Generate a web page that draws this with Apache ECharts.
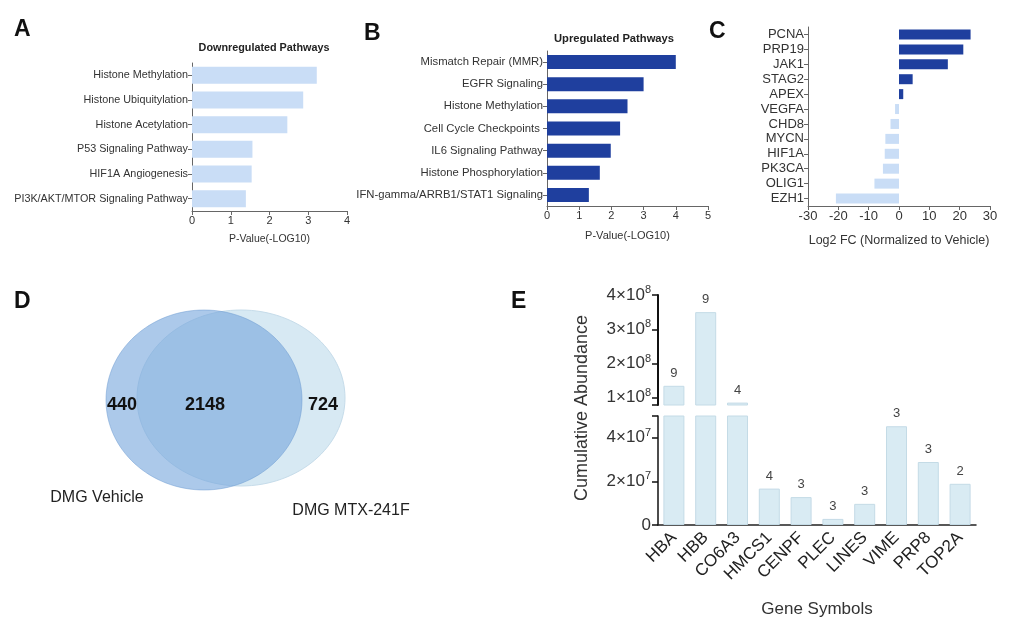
<!DOCTYPE html>
<html>
<head>
<meta charset="utf-8">
<script src="https://cdn.jsdelivr.net/npm/echarts@6/dist/echarts.min.js"></script>
<style>
  html, body { margin: 0; padding: 0; background: #fff; }
  #main { width: 1026px; height: 626px; }
</style>
</head>
<body>
<div id="main"></div>
<script>
// 数据
const downPathways = ['Histone Methylation', 'Histone Ubiquitylation', 'Histone Acetylation',
  'P53 Signaling Pathway', 'HIF1A Angiogenesis', 'PI3K/AKT/MTOR Signaling Pathway'];
const downValues = [3.22, 2.87, 2.46, 1.56, 1.54, 1.39];

const upPathways = ['Mismatch Repair (MMR)', 'EGFR Signaling', 'Histone Methylation',
  'Cell Cycle Checkpoints ', 'IL6 Signaling Pathway', 'Histone Phosphorylation',
  'IFN-gamma/ARRB1/STAT1 Signaling'];
const upValues = [4.0, 3.0, 2.5, 2.27, 1.98, 1.64, 1.3];

const fcGenes = ['PCNA', 'PRP19', 'JAK1', 'STAG2', 'APEX', 'VEGFA', 'CHD8', 'MYCN',
  'HIF1A', 'PK3CA', 'OLIG1', 'EZH1'];
const fcValues = [23.6, 21.2, 16.1, 4.5, 1.4, -1.3, -2.8, -4.5, -4.7, -5.3, -8.1, -20.8];

const vennSets = ['DMG Vehicle', 'DMG MTX-241F'];
const vennCounts = [440, 2148, 724]; // 仅Vehicle, 交集, 仅MTX-241F

const geneSymbols = ['HBA', 'HBB', 'CO6A3', 'HMCS1', 'CENPF', 'PLEC', 'LINES', 'VIME', 'PRP8', 'TOP2A'];
const abundance = [1.35e8, 3.5e8, 0.86e8, 1.67e7, 1.28e7, 0.28e7, 0.97e7, 4.53e7, 2.89e7, 1.89e7];
const peptideCounts = [9, 9, 4, 4, 3, 3, 3, 3, 3, 2];

// 断轴范围
const lowMax = 5e7;
const highMin = 0.79e8;
const highTicks = [1e8, 2e8, 3e8, 4e8];
const lowTicks = [0, 2e7, 4e7];

const FONT = 'Liberation Sans, Arial, sans-serif';
const lightBlue = '#c9ddf6';
const darkBlue = '#1f3f9e';
const pale = '#d9ebf3';

// 科学计数法标签
const sci = v => {
  if (v === 0) return '{m|0}';
  let exp = Math.floor(Math.log10(v) + 1e-9);
  let mant = Math.round(v / Math.pow(10, exp));
  return '{m|' + mant + '×10}{e|' + exp + '}';
};
const sciRich = {
  m: { fontSize: 17, color: '#333', fontFamily: FONT },
  e: { fontSize: 11, color: '#333', fontFamily: FONT, padding: [0, 0, 10, 0] }
};

const smallAxis = (fs) => ({
  axisLine: { show: true, onZero: false, lineStyle: { color: '#666', width: 1 } },
  axisTick: { show: true, length: 4, lineStyle: { color: '#666' } },
  axisLabel: { color: '#333', fontSize: fs, fontFamily: FONT, margin: 4, interval: 0 },
  splitLine: { show: false }
});

let chart = echarts.init(document.getElementById('main'));

chart.setOption({
  backgroundColor: '#fff',
  animation: false,
  textStyle: { fontFamily: FONT },
  grid: [
    { left: 192, top: 63, width: 155, height: 148 },   // A
    { left: 547, top: 51, width: 161, height: 155 },   // B
    { left: 808, top: 27, width: 182, height: 179 },   // C
    { left: 658, top: 295, width: 318, height: 110 },  // E 上
    { left: 658, top: 416, width: 318, height: 109 }   // E 下
  ],
  xAxis: [
    Object.assign(smallAxis(11), {
      gridIndex: 0, type: 'value', min: 0, max: 4, interval: 1,
      name: 'P-Value(-LOG10)', nameLocation: 'middle', nameGap: 23,
      nameTextStyle: { fontSize: 10.5, color: '#333' }
    }),
    Object.assign(smallAxis(11), {
      gridIndex: 1, type: 'value', min: 0, max: 5, interval: 1,
      name: 'P-Value(-LOG10)', nameLocation: 'middle', nameGap: 24,
      nameTextStyle: { fontSize: 11, color: '#333' }
    }),
    Object.assign(smallAxis(13), {
      gridIndex: 2, type: 'value', min: -30, max: 30, interval: 10,
      name: 'Log2 FC (Normalized to Vehicle)', nameLocation: 'middle', nameGap: 28,
      nameTextStyle: { fontSize: 12.5, color: '#333' }
    }),
    {
      gridIndex: 3, type: 'category', data: geneSymbols, show: false
    },
    {
      gridIndex: 4, type: 'category', data: geneSymbols,
      axisLine: { lineStyle: { color: '#222', width: 1.5 } },
      axisTick: { alignWithLabel: true, length: 6, lineStyle: { color: '#222', width: 1.5 } },
      axisLabel: { rotate: 45, fontSize: 17, color: '#222', margin: 10, interval: 0, fontFamily: FONT },
      name: 'Gene Symbols', nameLocation: 'middle', nameGap: 76,
      nameTextStyle: { fontSize: 17, color: '#333' }
    }
  ],
  yAxis: [
    Object.assign(smallAxis(10.8), {
      gridIndex: 0, type: 'category', data: downPathways, inverse: true,
      axisTick: { show: true, alignWithLabel: true, length: 4, lineStyle: { color: '#666' } }
    }),
    Object.assign(smallAxis(11.3), {
      gridIndex: 1, type: 'category', data: upPathways, inverse: true,
      axisTick: { show: true, alignWithLabel: true, length: 4, lineStyle: { color: '#666' } }
    }),
    Object.assign(smallAxis(13), {
      gridIndex: 2, type: 'category', data: fcGenes, inverse: true,
      axisTick: { show: true, alignWithLabel: true, length: 4, lineStyle: { color: '#666' } }
    }),
    {
      gridIndex: 3, type: 'value', min: highMin, max: 4e8,
      axisLine: { show: true, lineStyle: { color: '#111', width: 2 } },
      axisTick: { show: true, length: 6, customValues: [highMin].concat(highTicks), lineStyle: { color: '#111', width: 1.5 } },
      axisLabel: { customValues: highTicks, formatter: sci, rich: sciRich, margin: 7 },
      splitLine: { show: false }
    },
    {
      gridIndex: 4, type: 'value', min: 0, max: lowMax,
      axisLine: { show: true, lineStyle: { color: '#111', width: 1.5 } },
      axisTick: { show: true, length: 6, customValues: lowTicks.concat([lowMax]), lineStyle: { color: '#111', width: 1.5 } },
      axisLabel: { customValues: lowTicks, formatter: sci, rich: sciRich, margin: 7 },
      splitLine: { show: false }
    }
  ],
  series: [
    {
      type: 'bar', xAxisIndex: 0, yAxisIndex: 0, data: downValues, barWidth: 17,
      itemStyle: { color: lightBlue }
    },
    {
      type: 'bar', xAxisIndex: 1, yAxisIndex: 1, data: upValues, barWidth: 14,
      itemStyle: { color: darkBlue }
    },
    {
      type: 'bar', xAxisIndex: 2, yAxisIndex: 2, data: fcValues, barWidth: 10,
      itemStyle: {
        color: function(params) {
          return params.value >= 0 ? darkBlue : lightBlue;
        }
      }
    },
    {
      // 断轴上半部分
      type: 'bar', xAxisIndex: 3, yAxisIndex: 3, barWidth: 21, clip: true,
      data: abundance.map(v => (v > lowMax ? v : '-')),
      itemStyle: { color: pale, borderColor: '#c4dbe6', borderWidth: 1 },
      label: {
        show: true, position: 'top', distance: 6, fontSize: 13, color: '#444',
        formatter: p => String(peptideCounts[p.dataIndex])
      }
    },
    {
      // 断轴下半部分
      type: 'bar', xAxisIndex: 4, yAxisIndex: 4, barWidth: 21, clip: true,
      data: abundance,
      itemStyle: { color: pale, borderColor: '#c4dbe6', borderWidth: 1 },
      label: {
        show: true, position: 'top', distance: 6, fontSize: 13, color: '#444',
        formatter: p => (abundance[p.dataIndex] > lowMax ? '' : String(peptideCounts[p.dataIndex]))
      }
    }
  ],
  graphic: [
    // 面板字母
    { type: 'text', left: 14, top: 18, style: { text: 'A', font: 'bold 23px ' + FONT, fill: '#111' } },
    { type: 'text', left: 364, top: 22, style: { text: 'B', font: 'bold 23px ' + FONT, fill: '#111' } },
    { type: 'text', left: 709, top: 20, style: { text: 'C', font: 'bold 23px ' + FONT, fill: '#111' } },
    { type: 'text', left: 14, top: 290, style: { text: 'D', font: 'bold 23px ' + FONT, fill: '#111' } },
    { type: 'text', left: 511, top: 290, style: { text: 'E', font: 'bold 23px ' + FONT, fill: '#111' } },
    // 标题
    { type: 'text', x: 264, y: 48, style: { text: 'Downregulated Pathways', font: 'bold 10.8px ' + FONT, fill: '#222', align: 'center', verticalAlign: 'middle' } },
    { type: 'text', x: 614, y: 39, style: { text: 'Upregulated Pathways', font: 'bold 11.2px ' + FONT, fill: '#222', align: 'center', verticalAlign: 'middle' } },
    // E 纵轴标题
    {
      type: 'text', x: 582, y: 408, rotation: Math.PI / 2,
      style: { text: 'Cumulative Abundance', font: '18px ' + FONT, fill: '#333', align: 'center', verticalAlign: 'middle' }
    },
    // 韦恩图
    {
      type: 'ellipse', shape: { cx: 241, cy: 398, rx: 104, ry: 88 },
      style: { fill: '#d7e9f3', stroke: '#c6dcea', lineWidth: 1 }
    },
    {
      type: 'ellipse', shape: { cx: 204, cy: 400, rx: 98, ry: 90 },
      style: { fill: 'rgba(117,165,220,0.6)', stroke: 'rgba(110,155,210,0.5)', lineWidth: 1 }
    },
    { type: 'text', x: 122, y: 405, style: { text: String(vennCounts[0]), font: 'bold 18px ' + FONT, fill: '#111', align: 'center', verticalAlign: 'middle' } },
    { type: 'text', x: 205, y: 405, style: { text: String(vennCounts[1]), font: 'bold 18px ' + FONT, fill: '#111', align: 'center', verticalAlign: 'middle' } },
    { type: 'text', x: 323, y: 405, style: { text: String(vennCounts[2]), font: 'bold 18px ' + FONT, fill: '#111', align: 'center', verticalAlign: 'middle' } },
    { type: 'text', x: 97, y: 498, style: { text: vennSets[0], font: '16px ' + FONT, fill: '#222', align: 'center', verticalAlign: 'middle' } },
    { type: 'text', x: 351, y: 511, style: { text: vennSets[1], font: '16px ' + FONT, fill: '#222', align: 'center', verticalAlign: 'middle' } }
  ]
});
</script>
</body>
</html>
